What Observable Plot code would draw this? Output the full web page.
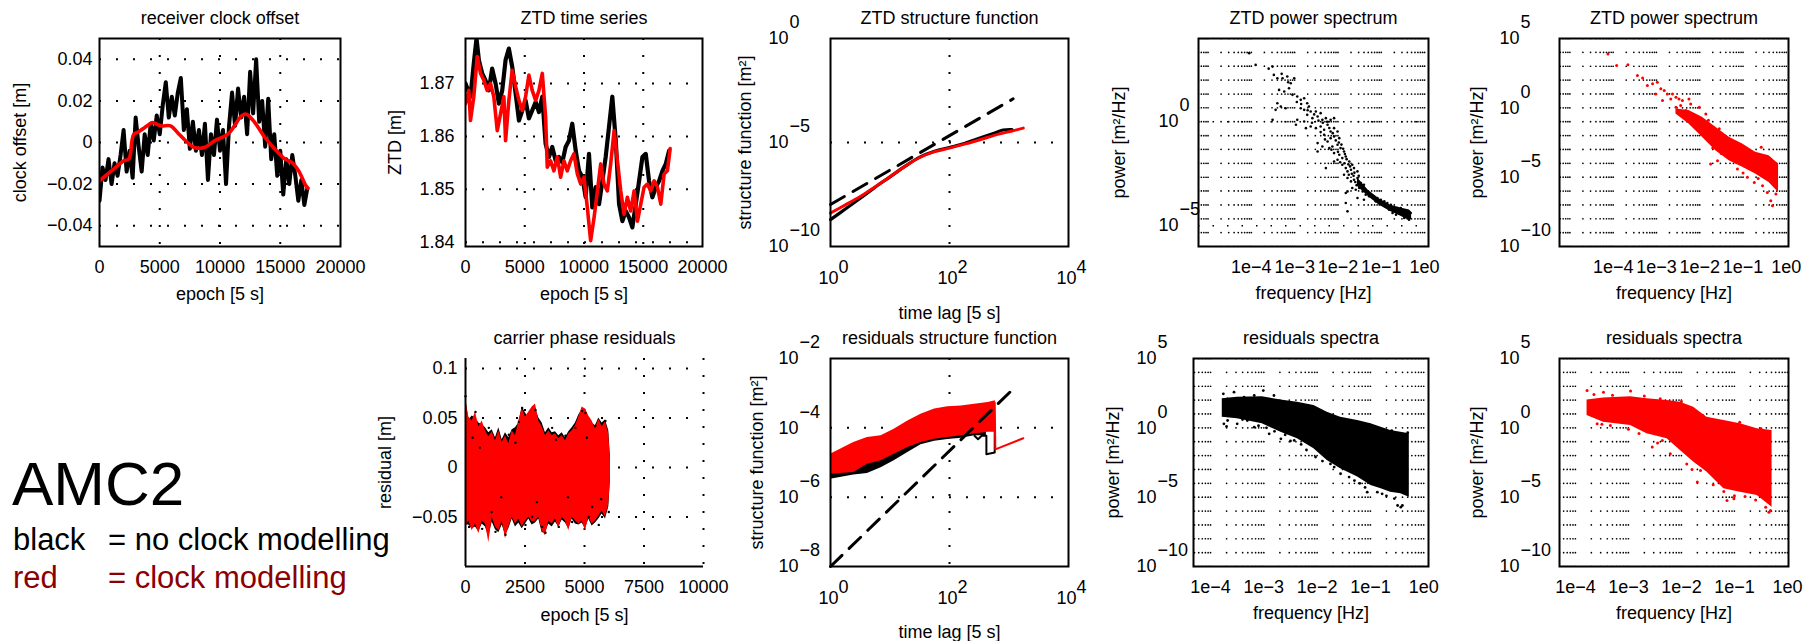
<!DOCTYPE html>
<html><head><meta charset="utf-8">
<script src="https://cdn.jsdelivr.net/npm/d3@7"></script>
<script src="https://cdn.jsdelivr.net/npm/@observablehq/plot@0.6"></script>
<style>
body{margin:0;background:#fff;}
#fig{position:relative;width:1814px;height:641px;overflow:hidden;background:#fff;font-family:"Liberation Sans",Arial,Helvetica,sans-serif;}
#fig svg{position:absolute;overflow:visible;max-width:none;}
</style></head>
<body><div id="fig"></div>
<script>
// ---------------- DATA ----------------
// Panel 1: receiver clock offset [m] vs epoch [5 s]
const clockNoModel = [[0,-0.028],[250,-0.012],[500,-0.018],[750,-0.008],[1000,-0.02],[1250,-0.01],[1500,-0.016],[1750,-0.006],[2000,0.006],[2250,-0.014],[2500,-0.004],[2750,-0.017],[3000,0.012],[3250,-0.002],[3500,-0.014],[3750,0.004],[4000,-0.006],[4250,0.009],[4500,0.001],[4750,0.013],[5000,0.004],[5250,0.018],[5500,0.029],[5750,0.012],[6000,0.022],[6250,0.013],[6500,0.024],[6750,0.031],[7000,0.006],[7250,0.016],[7500,-0.003],[7750,0.01],[8000,-0.004],[8250,0.006],[8500,-0.006],[8750,0.009],[9000,-0.018],[9250,0.004],[9500,-0.006],[9750,0.011],[10000,-0.004],[10250,0.006],[10500,-0.02],[10750,0.008],[11000,0.024],[11250,0.008],[11500,0.026],[11750,0.012],[12000,0.022],[12250,0.004],[12500,0.034],[12750,0.014],[13000,0.04],[13250,0.01],[13500,0.02],[13750,-0.002],[14000,0.021],[14250,-0.008],[14500,0.004],[14750,-0.016],[15000,-0.004],[15250,-0.025],[15500,-0.008],[15750,-0.02],[16000,-0.006],[16250,-0.016],[16500,-0.028],[16750,-0.018],[17000,-0.03],[17250,-0.022]];
const clockModelEpoch = [0,1170,2000,2430,2700,2850,3120,3960,4380,5080,5900,6470,7300,7870,8700,9540,10660,11200,11780,12190,12890,13730,14560,15400,15960,16520,17130,17300];
const clockModelValue = [-0.0184,-0.0128,-0.0088,-0.008,0.001,0.004,0.0048,0.008,0.0096,0.008,0.008,0.0048,0,-0.0024,-0.0024,0.0008,0.004,0.008,0.0128,0.0136,0.0096,0.0024,-0.0032,-0.008,-0.0096,-0.0136,-0.0208,-0.022];
const clockYTicks = [-0.04,-0.02,0,0.02,0.04];
const epochTicks20k = [0,5000,10000,15000,20000];

// Panel 2: ZTD time series [m]
const ztdBlackEpoch = [0,420,700,930,1130,1410,1690,1970,2250,2540,2820,3100,3380,3660,3940,4230,4510,4790,5070,5350,5630,5920,6200,6480,6760,7040,7320,7610,7890,8170,8450,8730,9010,9300,9580,9860,10140,10420,10700,10990,11270,11550,11830,12110,12390,12680,12960,13240,13520,13800,14080,14370,14650,14930,15210,15490,15770,16060,16340,16620,16900,17180];
const ztdBlackValue = [1.87,1.8675,1.8738,1.8785,1.8744,1.8719,1.8706,1.8687,1.8728,1.87,1.8662,1.8687,1.8744,1.8766,1.8732,1.8681,1.863,1.8649,1.8668,1.8634,1.8649,1.8665,1.8646,1.8675,1.8586,1.8561,1.858,1.8554,1.8561,1.8551,1.858,1.8592,1.8624,1.8573,1.8535,1.8523,1.8485,1.8567,1.8466,1.8504,1.8472,1.8516,1.8561,1.8618,1.8675,1.8592,1.8472,1.844,1.8459,1.8447,1.8428,1.8472,1.8516,1.8561,1.8567,1.8516,1.8485,1.8504,1.8516,1.8535,1.8548,1.8573];
const ztdRedEpoch = [0,280,420,700,990,1270,1550,1830,2110,2390,2680,2960,3240,3380,3660,3940,4230,4510,4790,5070,5350,5630,5920,6200,6480,6760,6900,7180,7460,7750,8030,8310,8590,8870,9150,9440,9720,10000,10280,10560,10850,11130,11410,11690,11970,12250,12540,12820,13100,13380,13660,13940,14230,14510,14790,15070,15350,15630,15920,16200,16480,16760,17040,17270];
const ztdRedValue = [1.8662,1.8687,1.863,1.8675,1.8751,1.8719,1.8706,1.8687,1.87,1.8675,1.8611,1.8643,1.8675,1.8592,1.8668,1.8725,1.8694,1.8668,1.8649,1.8675,1.8716,1.8687,1.8668,1.8687,1.8719,1.8637,1.8542,1.8554,1.8535,1.8561,1.8523,1.8554,1.8535,1.8554,1.8567,1.8529,1.851,1.8523,1.8466,1.8403,1.8447,1.8497,1.8548,1.851,1.8497,1.8548,1.8611,1.8554,1.8497,1.8453,1.8485,1.8459,1.8497,1.844,1.8472,1.8504,1.851,1.8497,1.8516,1.8504,1.8472,1.8529,1.8535,1.8577];
const ztdYTicks = [1.84,1.85,1.86,1.87];

// Panel 3: ZTD structure function (log10 lag, log10 value)
const ztdSfBlackLog10Lag = [0,0.25,0.5,0.75,1.0,1.25,1.5,1.75,2.0,2.25,2.5,2.75,2.9,3.05];
const ztdSfBlackLog10 = [-8.71,-8.2,-7.68,-7.15,-6.65,-6.15,-5.7,-5.42,-5.24,-5.05,-4.8,-4.55,-4.4,-4.38];
const ztdSfRedLog10Lag = [0,0.25,0.5,0.75,1.0,1.25,1.5,1.75,2.0,2.25,2.5,2.75,2.9,3.05,3.24];
const ztdSfRedLog10 = [-8.39,-8.0,-7.6,-7.13,-6.65,-6.15,-5.72,-5.44,-5.27,-5.08,-4.88,-4.66,-4.55,-4.45,-4.31];
const ztdSfRefLog10Lag = [0,3.07];
const ztdSfRefLog10 = [-7.98,-2.9];

// Panel 4: ZTD power spectrum, no clock modelling (log10 f [Hz], log10 P)
const ztdSpecBlack = [[-4.05,3.29],[-3.90,2.73],[-3.51,2.65],[-3.48,2.25],[-3.40,2.09],[-3.28,2.09],[-3.17,2.17],[-3.09,1.85],[-3.01,2.09],[-3.36,1.53],[-3.24,1.45],[-3.13,1.61],[-3.05,1.29],[-2.94,1.21],[-2.86,1.05],[-2.78,1.13],[-2.71,0.89],[-3.40,0.89],[-3.32,0.73],[-3.21,0.65],[-2.86,0.65],[-2.78,0.57],[-2.67,0.73],[-2.63,0.49],[-2.51,0.49],[-2.40,0.41],[-3.44,0.57],[-3.51,0.09],[-2.94,0.09],[-2.78,0.01],[-2.71,0.33],[-2.59,0.17],[-2.47,0.25],[-2.36,0.09],[-2.28,0.17],[-2.17,0.09],[-2.09,0.17],[-2.97,-0.15],[-2.74,-0.31],[-2.63,-0.23],[-2.51,-0.31],[-2.40,-0.23],[-2.32,-0.39],[-2.24,-0.15],[-2.17,-0.47],[-2.09,-0.31],[-2.01,-0.47],[-2.32,-0.63],[-2.24,-0.95],[-2.17,-0.79],[-2.09,-0.71],[-1.97,-0.79],[-2.47,-1.03],[-2.36,-1.19],[-2.20,-1.27],[-2.13,-1.19],[-2.01,-1.11],[-1.94,-1.27],[-1.86,-1.43],[-2.47,-1.43],[-2.09,-1.51],[-1.97,-1.59],[-1.90,-1.75],[-1.82,-1.67],[-1.74,-1.91],[-1.67,-2.07],[-2.09,-1.91],[-2.01,-1.83],[-1.90,-2.07],[-1.82,-2.23],[-1.78,-2.39],[-1.70,-2.31],[-1.63,-2.23],[-1.55,-2.39],[-2.28,-2.23],[-1.86,-2.55],[-1.78,-2.71],[-1.70,-2.87],[-1.63,-2.79],[-1.55,-2.71],[-1.47,-2.95],[-1.40,-3.03],[-1.78,-3.35],[-1.82,-3.43],[-1.67,-3.19],[-1.59,-3.27],[-1.51,-3.19],[-1.43,-3.35],[-1.36,-3.51],[-1.28,-3.59],[-1.20,-3.67],[-1.13,-3.83],[-1.05,-3.91],[-0.97,-3.99],[-0.90,-4.07],[-0.82,-4.23],[-0.74,-4.39],[-0.66,-4.47],[-0.59,-4.39],[-0.51,-4.47],[-0.43,-4.31],[-0.40,-4.55],[-0.32,-4.39],[-0.36,-4.71],[-0.47,-4.63],[-0.55,-4.15],[-0.63,-4.15],[-0.70,-4.15],[-0.78,-3.99],[-0.86,-3.91],[-0.93,-3.83],[-1.01,-3.75],[-1.09,-3.67],[-1.17,-3.59],[-1.24,-3.51],[-1.82,-3.91],[-1.78,-4.31],[-1.55,-3.67],[-1.40,-3.75],[-2.55,0.35],[-2.45,0.05],[-2.35,-0.05],[-2.25,0.0],[-2.2,-0.3],[-2.12,-0.55],[-2.05,-0.9],[-1.98,-1.0],[-1.92,-1.1],[-1.88,-1.3],[-1.84,-1.55],[-1.8,-1.8],[-1.76,-2.05],[-1.72,-2.15],[-1.68,-2.5],[-1.64,-2.6],[-1.6,-2.9],[-1.57,-3.05],[-1.5,-3.1],[-1.45,-3.2],[-2.3,-0.85],[-2.4,-0.5],[-2.6,-0.05],[-2.15,-1.35],[-2.0,-1.45],[-1.95,-1.95],[-1.85,-2.0],[-1.75,-2.55],[-1.62,-2.45],[-1.52,-2.6],[-2.7,0.55],[-2.85,0.85],[-2.95,0.95],[-3.15,1.9],[-3.3,2.3],[-3.6,2.55]];
const ztdSpecBlackBandLog10F = [-1.55,-1.3,-1.05,-0.8,-0.55,-0.35,-0.3];
const ztdSpecBlackBandHi = [-2.7,-3.3,-3.7,-4.0,-4.15,-4.25,-4.35];
const ztdSpecBlackBandLo = [-3.1,-3.6,-4.0,-4.3,-4.55,-4.75,-4.7];

// Panel 5: ZTD power spectrum, clock modelling
const ztdSpecRed = [[-4.12,3.89],[-3.92,3.05],[-3.66,3.10],[-3.44,2.33],[-3.32,2.16],[-3.21,1.61],[-3.09,1.73],[-2.98,1.85],[-2.90,1.37],[-2.82,1.25],[-2.75,1.00],[-2.63,1.00],[-2.55,0.76],[-2.48,0.64],[-2.67,0.64],[-2.40,0.52],[-2.25,0.64],[-2.21,0.28],[-2.55,0.04],[-2.44,0.16],[-2.32,-0.20],[-2.86,0.52],[-3.02,1.00],[-2.01,0.04],[-1.86,-0.44],[-0.58,-2.85],[-1.75,-4.05],[-1.59,-3.81],[-1.13,-4.41],[-0.90,-5.01],[-0.74,-5.38],[-0.55,-5.62],[-0.44,-6.10],[-0.36,-6.70],[-0.32,-7.06],[-0.24,-6.22],[-1.24,-3.57],[-1.40,-3.09],[-2.1,-0.6],[-1.7,-2.9],[-1.5,-3.3],[-1.0,-4.7],[-0.65,-5.1],[-2.35,-0.5],[-1.95,-1.6],[-1.8,-0.9],[-1.55,-1.5]];
const ztdSpecRedBandLog10F = [-2.55,-2.25,-1.94,-1.63,-1.32,-1.01,-0.71,-0.40,-0.18];
const ztdSpecRedBandHi = [-0.08,-0.2,-0.68,-1.40,-2.13,-2.61,-3.21,-3.45,-4.05];
const ztdSpecRedBandLo = [-0.44,-1.16,-2.13,-3.09,-3.81,-4.29,-4.77,-5.38,-6.10];

// Panel 6: carrier phase residuals [m]
const resEpoch = [0,140,280,420,560,700,840,980,1120,1260,1400,1540,1680,1820,1960,2100,2240,2380,2520,2660,2800,2940,3080,3220,3360,3500,3640,3780,3920,4060,4200,4340,4480,4620,4760,4900,5040,5180,5320,5460,5600,5740,5880,6020,6090];
const resRedHi = [0.069,0.051,0.047,0.056,0.041,0.047,0.037,0.031,0.036,0.027,0.037,0.025,0.032,0.024,0.037,0.032,0.047,0.059,0.051,0.056,0.061,0.064,0.047,0.041,0.032,0.037,0.032,0.034,0.029,0.032,0.027,0.034,0.037,0.042,0.051,0.061,0.059,0.052,0.047,0.039,0.049,0.041,0.046,0.034,0.007];
const resRedLo = [-0.060,-0.054,-0.064,-0.057,-0.067,-0.054,-0.057,-0.076,-0.050,-0.060,-0.064,-0.054,-0.072,-0.060,-0.050,-0.057,-0.052,-0.060,-0.054,-0.050,-0.055,-0.054,-0.050,-0.064,-0.069,-0.054,-0.057,-0.052,-0.062,-0.050,-0.054,-0.064,-0.050,-0.054,-0.057,-0.054,-0.064,-0.050,-0.057,-0.054,-0.049,-0.044,-0.050,-0.037,-0.010];
const resBlackHi = [0.072,0.048,0.052,0.05,0.045,0.043,0.04,0.035,0.038,0.03,0.04,0.028,0.035,0.03,0.038,0.04,0.045,0.061,0.055,0.05,0.058,0.06,0.05,0.045,0.035,0.04,0.035,0.036,0.032,0.035,0.03,0.036,0.04,0.045,0.053,0.058,0.056,0.05,0.045,0.042,0.05,0.045,0.048,0.037,0.01];
const resBlackLo = [-0.058,-0.058,-0.062,-0.06,-0.065,-0.057,-0.06,-0.07,-0.055,-0.063,-0.066,-0.058,-0.068,-0.062,-0.052,-0.06,-0.056,-0.062,-0.057,-0.052,-0.058,-0.056,-0.052,-0.066,-0.066,-0.057,-0.06,-0.055,-0.06,-0.053,-0.056,-0.062,-0.052,-0.057,-0.058,-0.056,-0.062,-0.052,-0.059,-0.056,-0.052,-0.047,-0.052,-0.04,-0.012];
const resBlackDots = [[0,0.072],[150,-0.06],[420,0.056],[700,-0.062],[980,0.04],[1260,-0.065],[1680,-0.068],[1820,0.033],[2240,0.046],[2380,0.06],[2520,-0.058],[2940,0.058],[3220,-0.06],[3360,-0.066],[3640,0.04],[3920,-0.06],[4200,0.032],[4480,-0.055],[4900,0.057],[5040,0.055],[5180,-0.05],[5460,0.042],[5600,-0.058],[5880,0.047],[6020,-0.045],[300,0.03],[1100,-0.045],[2800,-0.05],[4620,0.04],[5320,-0.04],[600,0.02],[1500,-0.03],[2100,0.025],[3000,-0.035],[3800,0.028],[4300,-0.03],[5100,0.03],[5700,-0.032]];
const resYTicks = [-0.05,0,0.05,0.1];
const epochTicks10k = [0,2500,5000,7500,10000];

// Panel 7: residuals structure function (log10)
const resSfRedLog10Lag = [0,0.39,0.62,0.85,1.07,1.3,1.52,1.75,1.97,2.2,2.42,2.65,2.77];
const resSfRedHi = [-4.76,-4.42,-4.28,-4.23,-4.04,-3.8,-3.61,-3.46,-3.39,-3.37,-3.32,-3.27,-3.22];
const resSfRedLo = [-5.34,-5.29,-5.05,-4.95,-4.76,-4.57,-4.42,-4.33,-4.28,-4.23,-4.18,-4.13,-4.13];
const resSfBlackLog10Lag = [0,0.39,0.62,0.85,1.07,1.3,1.52,1.75,1.97,2.2,2.42,2.62];
const resSfBlackHi = [-5.2,-5.15,-4.95,-4.85,-4.66,-4.47,-4.32,-4.23,-4.18,-4.13,-4.08,-4.05];
const resSfBlackLo = [-5.48,-5.36,-5.32,-5.15,-4.95,-4.71,-4.49,-4.39,-4.34,-4.30,-4.23,-4.23];
const resSfBlackTailLog10Lag = [2.42,2.48,2.54,2.62,2.62,2.76,2.76];
const resSfBlackTail = [-4.23,-4.33,-4.23,-4.23,-4.76,-4.71,-4.09];
const resSfRedTailLog10Lag = [2.76,2.77,3.24];
const resSfRedTail = [-3.27,-4.62,-4.30];
const resSfRefLog10Lag = [0,3.04];
const resSfRefLog10 = [-8,-2.93];

// Panel 8: residual spectra, no clock modelling (log10 f, log10 P)
const resSpecBlackBandLog10F = [-3.78,-3.50,-3.03,-2.68,-2.37,-2.06,-1.81,-1.56,-1.24,-0.99,-0.80,-0.62,-0.43,-0.27];
const resSpecBlackBandHi = [2.1,2.2,2.25,2.0,1.85,1.61,1.13,0.77,0.53,0.29,0.05,-0.19,-0.31,-0.43];
const resSpecBlackBandLo = [0.77,0.65,0.29,-0.31,-0.79,-1.51,-2.35,-2.95,-3.55,-4.15,-4.40,-4.64,-4.76,-5.0];
const resSpecBlackDots = [[-3.76,2.45],[-3.68,2.09],[-3.56,2.57],[-3.37,2.21],[-3.18,2.33],[-3.01,2.69],[-2.81,2.33],[-3.75,0.29],[-3.68,0.53],[-3.50,0.29],[-3.31,0.53],[-3.18,0.05],[-2.90,-0.43],[-2.68,-0.79],[-2.43,-0.91],[-2.03,-2.11],[-1.68,-2.83],[-1.56,-3.31],[-1.40,-3.55],[-1.06,-4.64],[-0.87,-4.64],[-0.78,-4.76],[-0.49,-5.60],[-0.43,-5.72],[-0.40,-5.60],[-3.62,1.6],[-3.45,0.9],[-3.25,1.9],[-2.95,0.0],[-2.6,-0.5],[-2.2,-1.6],[-1.9,-2.4],[-1.2,-4.0],[-0.95,-0.2],[-0.6,-0.2],[-0.3,-0.35],[-3.7,0.1],[-3.4,0.6],[-3.1,0.15],[-2.8,-0.25],[-2.5,-0.95],[-2.3,-1.2],[-1.75,-2.6],[-1.3,-3.8],[-1.1,-4.3],[-0.7,-4.9],[-0.55,-5.1]];

// Panel 9: residual spectra, clock modelling
const resSpecRedBandLog10F = [-3.78,-3.47,-2.96,-2.65,-2.27,-2.02,-1.77,-1.52,-1.20,-0.89,-0.57,-0.29];
const resSpecRedBandHi = [2.0,2.15,2.25,2.09,1.97,1.85,1.49,0.77,0.53,0.29,-0.07,-0.19];
const resSpecRedBandLo = [0.89,0.41,0.17,-0.43,-0.79,-1.63,-2.47,-3.19,-4.40,-4.64,-4.88,-5.72];
const resSpecRedDots = [[-3.78,2.69],[-3.47,2.57],[-2.96,2.65],[-3.75,1.01],[-3.59,0.29],[-3.34,0.17],[-3.15,0.53],[-2.55,-1.39],[-2.21,-1.87],[-2.36,-0.91],[-1.70,-3.91],[-1.64,-3.07],[-1.14,-5.24],[-1.01,-5.12],[-0.35,-6.08],[-0.41,-5.72],[-0.32,-5.96],[-1.83,1.37],[-3.65,2.4],[-3.3,2.35],[-2.7,2.3],[-2.4,2.1],[-2.0,1.9],[-1.6,0.9],[-1.2,-4.6],[-0.8,-4.95],[-0.6,-5.2],[-2.8,-0.4],[-1.9,-2.6],[-0.5,-0.05],[-0.9,0.4],[-3.5,0.25],[-3.0,-0.1],[-2.45,-1.1],[-1.8,-3.0],[-1.4,-4.1],[-1.0,-4.9]];

// Axis tick exponents
const lagTickExp = [0,2,4];
const ztdSfYTickExp = [0,-5,-10];
const resSfYTickExp = [-2,-4,-6,-8];
const ztdSpecYTickExp = [0,-5];
const specYTickExp = [5,0,-5,-10];
const specXTickExp = [-4,-3,-2,-1,0];
// minor-grid rows drawn in the spectrum panels
const specGridRowExp = [5,4,3,2,1,0,-1,-2,-3,-4,-5,-6,-7,-8,-9,-10];
const ztdSpecGridRowExp = [4,3.33,2.67,2,1.33,0.67,0,-0.67,-1.33,-2,-2.67,-3.33,-4,-4.67,-5.33,-6];
const gridDecades = [-6,-5,-4,-3,-2,-1,0];
const gridMultipliers = [1,2,3,4,5,6,7,8,9];

// ---------------- RENDERING ----------------
const RED = "#ff0000";
const FONT = "'Liberation Sans', Arial, Helvetica, sans-serif";
const FS = 18;
const fig = document.getElementById("fig");
const P10 = e => Math.pow(10, e);
const minus = e => (e < 0 ? "\u2212" + Math.abs(e) : String(e));
const numFmt = d => (d === 0 ? "0" : String(d).replace("-", "\u2212"));
const zip = (...arrs) => arrs[0].map((_, i) => arrs.map(a => a[i]));
const DOT = {stroke: "black", strokeOpacity: 1, strokeWidth: 2, strokeDasharray: "2,15"};

function panel(o) {
  const ML = 120, MT = 45, MR = 35, MB = 85;
  const svg = Plot.plot({
    width: o.fw + ML + MR, height: o.fh + MT + MB,
    marginLeft: ML, marginRight: MR, marginTop: MT, marginBottom: MB,
    x: Object.assign({axis: null}, o.x),
    y: Object.assign({axis: null}, o.y),
    style: {fontFamily: FONT, fontSize: FS + "px", color: "black", background: "transparent", overflow: "visible"},
    marks: [
      ...o.marks,
      Plot.text([o.title], {frameAnchor: "top", dy: -15, textAnchor: "middle", lineAnchor: "bottom", fontSize: FS}),
      Plot.text([o.xlabel], {frameAnchor: "bottom", dy: o.xlabelDy, textAnchor: "middle", lineAnchor: "middle", fontSize: FS}),
      Plot.text([o.ylabel], {frameAnchor: "left", dx: o.ylabelDx, rotate: -90, textAnchor: "middle", lineAnchor: "middle", fontSize: FS})
    ]
  });
  svg.style.position = "absolute";
  svg.style.left = (o.fl - ML) + "px";
  svg.style.top = (o.ft - MT) + "px";
  fig.appendChild(svg);
}

function logYLabels(exps, baseDx) {
  return [
    Plot.text(exps, {frameAnchor: "left", y: e => P10(e), text: () => "10", textAnchor: "end", dx: baseDx, lineAnchor: "middle", fontSize: FS}),
    Plot.text(exps, {frameAnchor: "left", y: e => P10(e), text: e => minus(e), textAnchor: "start", dx: baseDx + 1, dy: -16, lineAnchor: "middle", fontSize: FS})
  ];
}
function logXLabels(exps) {
  return [
    Plot.text(exps, {frameAnchor: "bottom", x: e => P10(e), text: () => "10", textAnchor: "middle", dx: -2, dy: 32, lineAnchor: "middle", fontSize: FS}),
    Plot.text(exps, {frameAnchor: "bottom", x: e => P10(e), text: e => minus(e), textAnchor: "start", dx: 8, dy: 21, lineAnchor: "middle", fontSize: FS})
  ];
}
function specXLabels(exps) {
  return Plot.text(exps, {frameAnchor: "bottom", x: e => P10(e), text: e => "1e" + minus(e), textAnchor: "middle", dy: 21, lineAnchor: "middle", fontSize: FS});
}
function minorGrid(rowExps) {
  const pts = [];
  for (const r of rowExps) for (const k of gridDecades) for (const m of gridMultipliers) pts.push([m * P10(k), P10(r)]);
  return Plot.dot(pts, {x: "0", y: "1", r: 0.85, fill: "black", clip: true});
}
function linAxes(xt, yt, ypad) {
  return [
    Plot.axisX(xt, {tickSize: 0, tickPadding: 14, tickFormat: numFmt, fontSize: FS, label: null}),
    Plot.axisY(yt, {tickSize: 0, tickPadding: ypad, tickFormat: numFmt, fontSize: FS, label: null})
  ];
}
const frame = () => Plot.frame({stroke: "black", strokeWidth: 2});
const lg = (arrX, arrY) => zip(arrX, arrY);
const LX = d => P10(d[0]), LY = d => P10(d[1]);

// Panel 1
panel({fl: 99, ft: 38, fw: 241, fh: 208,
  x: {domain: [0, 20000]}, y: {domain: [-0.05, 0.05]},
  title: "receiver clock offset", xlabel: "epoch [5 s]", ylabel: "clock offset [m]", xlabelDy: 48, ylabelDx: -79,
  marks: [
    Plot.gridX(epochTicks20k.slice(1, 4), DOT),
    Plot.gridY(clockYTicks, DOT),
    Plot.line(clockNoModel, {x: "0", y: "1", stroke: "black", strokeWidth: 4, clip: true}),
    Plot.line(lg(clockModelEpoch, clockModelValue), {x: "0", y: "1", stroke: RED, strokeWidth: 3.6, curve: "catmull-rom", clip: true}),
    frame(), ...linAxes(epochTicks20k, clockYTicks, 7)
  ]});

// Panel 2
panel({fl: 465, ft: 38, fw: 237, fh: 208,
  x: {domain: [0, 20000]}, y: {domain: [1.8392, 1.8785]},
  title: "ZTD time series", xlabel: "epoch [5 s]", ylabel: "ZTD [m]", xlabelDy: 48, ylabelDx: -70,
  marks: [
    Plot.gridX(epochTicks20k.slice(1, 4), DOT),
    Plot.gridY(ztdYTicks, DOT),
    Plot.line(lg(ztdBlackEpoch, ztdBlackValue), {x: "0", y: "1", stroke: "black", strokeWidth: 4.2, clip: true}),
    Plot.line(lg(ztdRedEpoch, ztdRedValue), {x: "0", y: "1", stroke: RED, strokeWidth: 3.6, clip: true}),
    frame(), ...linAxes(epochTicks20k, ztdYTicks, 11)
  ]});

// Panel 3
panel({fl: 830, ft: 38, fw: 238, fh: 208,
  x: {type: "log", domain: [1, 1e4]}, y: {type: "log", domain: [1e-10, 1]},
  title: "ZTD structure function", xlabel: "time lag [5 s]", ylabel: "structure function [m\u00b2]", xlabelDy: 67, ylabelDx: -85,
  marks: [
    Plot.gridX([100], DOT), Plot.gridY([1e-5], DOT),
    Plot.line(lg(ztdSfRefLog10Lag, ztdSfRefLog10), {x: LX, y: LY, stroke: "black", strokeWidth: 3, strokeDasharray: "16,10"}),
    Plot.line(lg(ztdSfBlackLog10Lag, ztdSfBlackLog10), {x: LX, y: LY, stroke: "black", strokeWidth: 3.2, curve: "catmull-rom"}),
    Plot.line(lg(ztdSfRedLog10Lag, ztdSfRedLog10), {x: LX, y: LY, stroke: RED, strokeWidth: 3, curve: "catmull-rom"}),
    frame(), ...logYLabels(ztdSfYTickExp, -42), ...logXLabels(lagTickExp)
  ]});

// Panel 4
panel({fl: 1198, ft: 38, fw: 230, fh: 208,
  x: {type: "log", domain: [P10(-5.22), P10(0.09)]}, y: {type: "log", domain: [1e-6, 1e4]},
  title: "ZTD power spectrum", xlabel: "frequency [Hz]", ylabel: "power [m\u00b2/Hz]", xlabelDy: 47, ylabelDx: -79,
  marks: [
    minorGrid(ztdSpecGridRowExp),
    Plot.gridY([1, 1e-5], {stroke: "black", strokeOpacity: 1, strokeWidth: 1.5, strokeDasharray: "1.5,13"}),
    Plot.areaY(zip(ztdSpecBlackBandLog10F, ztdSpecBlackBandHi, ztdSpecBlackBandLo), {x: LX, y1: d => P10(d[2]), y2: LY, fill: "black", clip: true}),
    Plot.dot(ztdSpecBlack, {x: LX, y: LY, r: 1.3, fill: "black", clip: true}),
    frame(), ...logYLabels(ztdSpecYTickExp, -20), specXLabels(specXTickExp)
  ]});

// Panel 5
panel({fl: 1559, ft: 38, fw: 229, fh: 208,
  x: {type: "log", domain: [P10(-5.24), P10(0.05)]}, y: {type: "log", domain: [1e-10, 1e5]},
  title: "ZTD power spectrum", xlabel: "frequency [Hz]", ylabel: "power [m\u00b2/Hz]", xlabelDy: 47, ylabelDx: -82,
  marks: [
    minorGrid(specGridRowExp),
    Plot.areaY(zip(ztdSpecRedBandLog10F, ztdSpecRedBandHi, ztdSpecRedBandLo), {x: LX, y1: d => P10(d[2]), y2: LY, fill: RED, clip: true}),
    Plot.dot(ztdSpecRed, {x: LX, y: LY, r: 1.5, fill: RED, clip: true}),
    frame(), ...logYLabels(specYTickExp, -40), specXLabels(specXTickExp)
  ]});

// Panel 6
panel({fl: 465, ft: 358, fw: 238, fh: 208,
  x: {domain: [0, 10000]}, y: {domain: [-0.1, 0.11]},
  title: "carrier phase residuals", xlabel: "epoch [5 s]", ylabel: "residual [m]", xlabelDy: 49, ylabelDx: -80,
  marks: [
    Plot.gridX(epochTicks10k.slice(1), DOT),
    Plot.gridY(resYTicks, DOT),
    Plot.areaY(zip(resEpoch, resBlackLo, resBlackHi), {x: "0", y1: "1", y2: "2", fill: "black"}),
    Plot.areaY(zip(resEpoch, resRedLo, resRedHi), {x: "0", y1: "1", y2: "2", fill: RED}),
    Plot.dot(resBlackDots, {x: "0", y: "1", r: 1.2, fill: "black"}),
    Plot.ruleX([0], {stroke: "black", strokeWidth: 2}),
    Plot.ruleY([-0.1], {stroke: "black", strokeWidth: 2}),
    ...linAxes(epochTicks10k, resYTicks, 8)
  ]});

// Panel 7
panel({fl: 830, ft: 358, fw: 238, fh: 208,
  x: {type: "log", domain: [1, 1e4]}, y: {type: "log", domain: [1e-8, 1e-2]},
  title: "residuals structure function", xlabel: "time lag [5 s]", ylabel: "structure function [m\u00b2]", xlabelDy: 66, ylabelDx: -73,
  marks: [
    Plot.gridX([100], DOT), Plot.gridY([1e-4, 1e-6], DOT),
    Plot.areaY(zip(resSfBlackLog10Lag, resSfBlackLo, resSfBlackHi), {x: LX, y1: LY, y2: d => P10(d[2]), fill: "black", clip: true}),
    Plot.line(lg(resSfBlackTailLog10Lag, resSfBlackTail), {x: LX, y: LY, stroke: "black", strokeWidth: 2}),
    Plot.areaY(zip(resSfRedLog10Lag, resSfRedLo, resSfRedHi), {x: LX, y1: LY, y2: d => P10(d[2]), fill: RED, clip: true}),
    Plot.line(lg(resSfRedTailLog10Lag, resSfRedTail), {x: LX, y: LY, stroke: RED, strokeWidth: 2}),
    Plot.line(lg(resSfRefLog10Lag, resSfRefLog10), {x: LX, y: LY, stroke: "black", strokeWidth: 3, strokeDasharray: "16,10"}),
    frame(), ...logYLabels(resSfYTickExp, -32), ...logXLabels(lagTickExp)
  ]});

// Panel 8
panel({fl: 1193, ft: 358, fw: 235, fh: 208,
  x: {type: "log", domain: [P10(-4.32), P10(0.09)]}, y: {type: "log", domain: [1e-10, 1e5]},
  title: "residuals spectra", xlabel: "frequency [Hz]", ylabel: "power [m\u00b2/Hz]", xlabelDy: 47, ylabelDx: -80,
  marks: [
    minorGrid(specGridRowExp),
    Plot.areaY(zip(resSpecBlackBandLog10F, resSpecBlackBandHi, resSpecBlackBandLo), {x: LX, y1: d => P10(d[2]), y2: LY, fill: "black", clip: true}),
    Plot.dot(resSpecBlackDots, {x: LX, y: LY, r: 1.4, fill: "black", clip: true}),
    frame(), ...logYLabels(specYTickExp, -37), specXLabels(specXTickExp)
  ]});

// Panel 9
panel({fl: 1559, ft: 358, fw: 229, fh: 208,
  x: {type: "log", domain: [P10(-4.30), P10(0.02)]}, y: {type: "log", domain: [1e-10, 1e5]},
  title: "residuals spectra", xlabel: "frequency [Hz]", ylabel: "power [m\u00b2/Hz]", xlabelDy: 47, ylabelDx: -82,
  marks: [
    minorGrid(specGridRowExp),
    Plot.areaY(zip(resSpecRedBandLog10F, resSpecRedBandHi, resSpecRedBandLo), {x: LX, y1: d => P10(d[2]), y2: LY, fill: RED, clip: true}),
    Plot.dot(resSpecRedDots, {x: LX, y: LY, r: 1.5, fill: RED, clip: true}),
    frame(), ...logYLabels(specYTickExp, -40), specXLabels(specXTickExp)
  ]});

// Legend / station label
const leg = d3.create("svg").attr("width", 420).attr("height", 641)
  .style("position", "absolute").style("left", "0px").style("top", "0px")
  .style("font-family", FONT);
leg.append("text").attr("x", 12).attr("y", 505).attr("font-size", 62).attr("fill", "black").text("AMC2");
leg.append("text").attr("x", 13).attr("y", 550).attr("font-size", 31).attr("fill", "black").text("black");
leg.append("text").attr("x", 108).attr("y", 550).attr("font-size", 31).attr("fill", "black").text("= no clock modelling");
leg.append("text").attr("x", 13).attr("y", 588).attr("font-size", 31).attr("fill", "#8b0000").text("red");
leg.append("text").attr("x", 108).attr("y", 588).attr("font-size", 31).attr("fill", "#8b0000").text("= clock modelling");
fig.appendChild(leg.node());
</script>
</body></html>
